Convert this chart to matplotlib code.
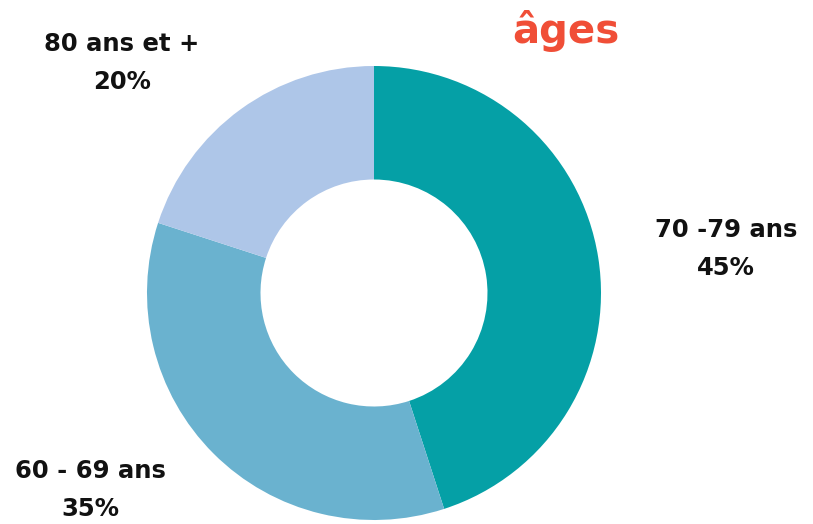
import matplotlib
matplotlib.use("Agg")
import matplotlib.pyplot as plt

categories = ["70 -79 ans", "60 - 69 ans", "80 ans et +"]
values = [45, 35, 20]
colors = ["#05A0A6", "#6AB2CF", "#AEC6E8"]

W, H = 813, 524
fig = plt.figure(figsize=(W / 100, H / 100), dpi=100)
cx, cy, r = 374, 293, 227
ax = fig.add_axes([(cx - r) / W, (H - cy - r) / H, 2 * r / W, 2 * r / H])
ax.pie(values, colors=colors, startangle=90, counterclock=False, radius=1,
       wedgeprops=dict(width=0.5, linewidth=0))
ax.set_xlim(-1, 1)
ax.set_ylim(-1, 1)
ax.set_aspect("auto")
ax.axis("off")

fam = ["DejaVu Sans"]
label_pos = [(726, 249), (90, 490), (122, 63)]
for cat, v, (x, y) in zip(categories, values, label_pos):
    fig.text(x / W, 1 - y / H, f"{cat}\n{v}%", ha="center", va="center",
             fontsize=17.5, fontweight="bold", family=fam, linespacing=1.75,
             color="#111111")

fig.text(566 / W, 1 - 31 / H, "âges", ha="center", va="center", fontsize=29,
         fontweight="bold", family=fam, color="#F04E37")

fig.savefig("out.png", dpi=100)
